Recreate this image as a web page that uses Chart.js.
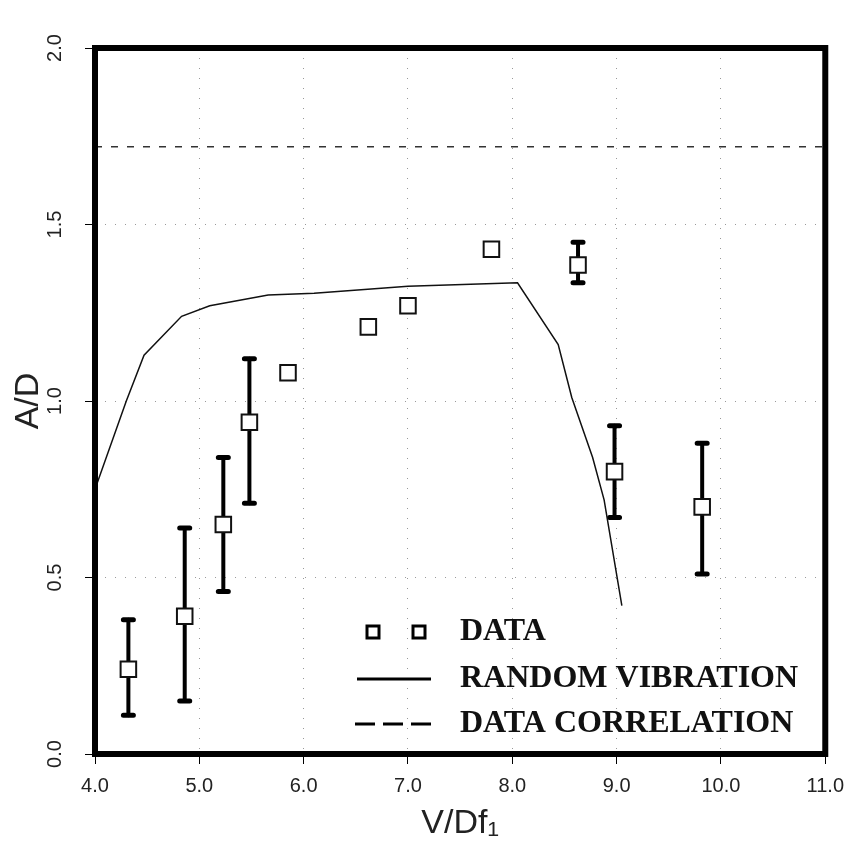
<!DOCTYPE html>
<html>
<head>
<meta charset="utf-8">
<script src="https://cdn.jsdelivr.net/npm/chart.js@4.4.0/dist/chart.umd.min.js"></script>
<style>
    html, body { margin: 0; padding: 0; background: #fff; }
</style>
</head>
<body>
<canvas id="chartCanvas" width="854" height="854"></canvas>
<script>

// measured points (V/Df1, A/D) with error bar ends
const dataX = [4.32, 4.86, 5.23, 5.48, 5.85, 6.62, 7.00, 7.80, 8.63, 8.98, 9.82];
const dataY = [0.24, 0.39, 0.65, 0.94, 1.08, 1.21, 1.27, 1.43, 1.385, 0.80, 0.70];
const errLow = [0.11, 0.15, 0.46, 0.71, null, null, null, null, 1.335, 0.67, 0.51];
const errHigh = [0.38, 0.64, 0.84, 1.12, null, null, null, null, 1.45, 0.93, 0.88];

// random vibration prediction
const vibX = [4.0, 4.3, 4.47, 4.83, 5.1, 5.66, 6.1, 7.0, 8.05, 8.44, 8.57, 8.77, 8.88, 9.05];
const vibY = [0.75, 1.0, 1.13, 1.24, 1.27, 1.30, 1.305, 1.325, 1.335, 1.16, 1.01, 0.84, 0.72, 0.42];

// data correlation
const corrX = [4.0, 11.0];
const corrY = [1.72, 1.72];

const xTicks = [4.0, 5.0, 6.0, 7.0, 8.0, 9.0, 10.0, 11.0];
const yTicks = [0.0, 0.5, 1.0, 1.5, 2.0];

const legendItems = ["DATA", "RANDOM VIBRATION", "DATA CORRELATION"];

const toXY = (xs, ys) => xs.map((x, i) => ({ x: x, y: ys[i] }));

const errorBars = {
    id: "errorBars",
    beforeDatasetsDraw(chart) {
        const ctx = chart.ctx;
        const xs = chart.scales.x;
        const ys = chart.scales.y;
        ctx.save();
        ctx.strokeStyle = "#000";
        ctx.lineCap = "round";
        dataX.forEach((x, i) => {
            if (errLow[i] === null) return;
            const px = xs.getPixelForValue(x);
            const lo = ys.getPixelForValue(errLow[i]);
            const hi = ys.getPixelForValue(errHigh[i]);
            ctx.lineWidth = 4;
            ctx.beginPath();
            ctx.moveTo(px, lo);
            ctx.lineTo(px, hi);
            ctx.stroke();
            ctx.lineWidth = 5;
            ctx.beginPath();
            ctx.moveTo(px - 5, lo);
            ctx.lineTo(px + 5, lo);
            ctx.moveTo(px - 5, hi);
            ctx.lineTo(px + 5, hi);
            ctx.stroke();
        });
        ctx.restore();
    }
};

const frameAndText = {
    id: "frameAndText",
    afterDraw(chart) {
        const ctx = chart.ctx;
        const a = chart.chartArea;
        const ys = chart.scales.y;
        ctx.save();

        // heavy frame
        ctx.strokeStyle = "#000";
        ctx.lineWidth = 6;
        ctx.strokeRect(a.left, a.top, a.right - a.left, a.bottom - a.top);

        // rotated y tick labels
        ctx.fillStyle = "#222";
        ctx.font = "20px 'Liberation Sans', 'DejaVu Sans'";
        ctx.textAlign = "center";
        ctx.textBaseline = "middle";
        yTicks.forEach(v => {
            ctx.save();
            ctx.translate(55, ys.getPixelForValue(v));
            ctx.rotate(-Math.PI / 2);
            ctx.fillText(v.toFixed(1), 0, 0);
            ctx.restore();
        });

        // legend
        ctx.fillStyle = "#111";
        ctx.font = "bold 32px 'Liberation Serif', 'DejaVu Serif'";
        ctx.textAlign = "left";
        const tx = 460;
        const rows = [632, 679, 724];
        legendItems.forEach((t, i) => ctx.fillText(t, tx, rows[i]));

        ctx.strokeStyle = "#000";
        ctx.lineWidth = 3;
        [373, 419].forEach(cx => ctx.strokeRect(cx - 6, rows[0] - 6, 12, 12));

        ctx.lineWidth = 3;
        ctx.beginPath();
        ctx.moveTo(357, rows[1]);
        ctx.lineTo(431, rows[1]);
        ctx.stroke();

        ctx.setLineDash([20, 8]);
        ctx.beginPath();
        ctx.moveTo(355, rows[2]);
        ctx.lineTo(431, rows[2]);
        ctx.stroke();

        ctx.restore();
    }
};

const gridOpts = {
    color: "rgba(0,0,0,0.4)",
    lineWidth: 1,
    tickLength: 10,
    tickColor: "#000",
    tickWidth: 1,
    tickBorderDash: []
};

const ctx = document.getElementById("chartCanvas").getContext("2d");

new Chart(ctx, {

    type: "scatter",

    data: {

        datasets: [
            {
                label: "DATA CORRELATION",
                data: toXY(corrX, corrY),
                showLine: true,
                borderColor: "#333",
                borderWidth: 1.5,
                borderDash: [7, 9],
                pointRadius: 0
            },
            {
                label: "RANDOM VIBRATION",
                data: toXY(vibX, vibY),
                showLine: true,
                borderColor: "#111",
                borderWidth: 1.5,
                tension: 0,
                pointRadius: 0
            },
            {
                label: "DATA",
                data: toXY(dataX, dataY),
                pointStyle: "rect",
                pointRadius: 11,
                pointBorderWidth: 2,
                pointBorderColor: "#111",
                pointBackgroundColor: "#fff"
            }
        ]

    },

    options: {

        responsive: false,
        animation: false,

        layout: {
            padding: { top: 48, right: 28, left: 0, bottom: 0 }
        },

        plugins: {
            legend: { display: false },
            tooltip: { enabled: false }
        },

        scales: {

            x: {
                type: "linear",
                min: 4,
                max: 11,
                afterBuildTicks: s => { s.ticks = xTicks.map(v => ({ value: v })); },
                afterFit: s => { s.height = 100; },
                grid: gridOpts,
                border: { display: false, dash: [1, 9] },
                ticks: {
                    color: "#222",
                    padding: 10,
                    font: { family: "'Liberation Sans', 'DejaVu Sans'", size: 20 },
                    callback: v => Number(v).toFixed(1),
                    maxRotation: 0
                },
                title: {
                    display: true,
                    text: "V/Df\u2081",
                    color: "#222",
                    font: { family: "'Liberation Sans', 'DejaVu Sans'", size: 34 },
                    padding: { top: 0, bottom: 10 }
                }
            },

            y: {
                type: "linear",
                min: 0,
                max: 2,
                afterBuildTicks: s => { s.ticks = yTicks.map(v => ({ value: v })); },
                afterFit: s => { s.width = 95; },
                grid: gridOpts,
                border: { display: false, dash: [1, 9] },
                ticks: { display: false },
                title: {
                    display: true,
                    text: "A/D",
                    color: "#222",
                    font: { family: "'Liberation Sans', 'DejaVu Sans'", size: 34 },
                    padding: { top: 8, bottom: 0 }
                }
            }

        }

    },

    plugins: [errorBars, frameAndText]

});

</script>
</body>
</html>
